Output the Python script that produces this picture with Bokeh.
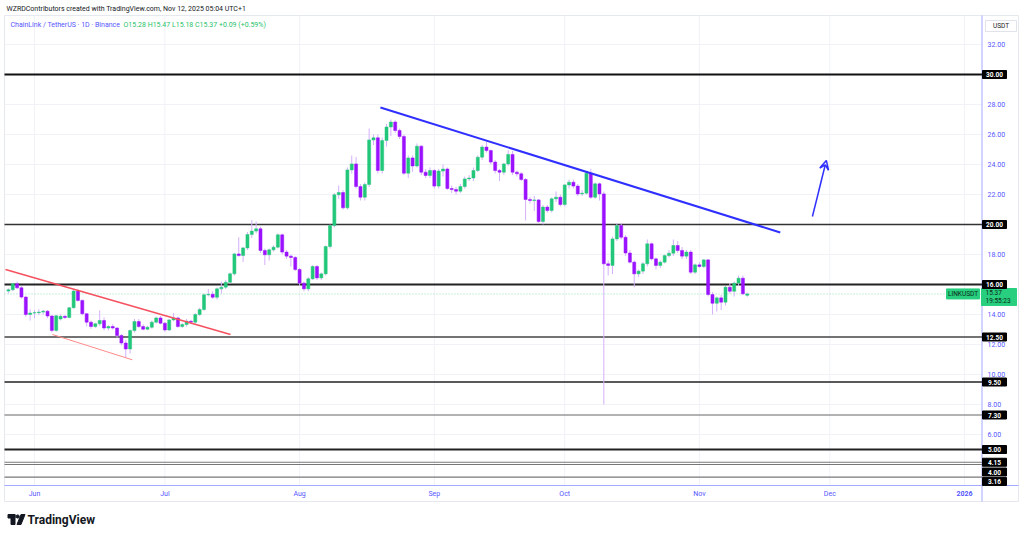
from bokeh.plotting import figure
from bokeh.models import Range1d, Arrow, VeeHead, ColumnDataSource
from bokeh.embed import file_html
from bokeh.resources import INLINE
from bokeh.core.properties import value

# ---------------- data (daily candles, 26 May 2025 -> 12 Nov 2025) ----------------
opens = [15.56, 15.65, 16.05, 15.78, 15.16, 14.0, 14.1, 14.12, 14.16, 14.22,
         13.9, 12.94, 13.7, 13.88, 13.8, 14.45, 15.56, 14.94, 14.05, 13.49,
         13.2, 13.38, 13.6, 13.1, 13.2, 13.1, 12.6, 12.1, 11.7, 12.93,
         13.53, 13.2, 13.02, 13.15, 13.49, 13.77, 13.42, 12.97, 13.64, 13.77,
         13.2, 13.33, 13.55, 13.49, 14.0, 14.33, 15.31, 15.35, 15.15, 15.71,
         15.82, 16.15, 16.71, 18.04, 17.93, 18.44, 19.33, 19.56, 19.71, 18.27,
         17.98, 18.31, 18.49, 19.31, 18.16, 17.89, 17.8, 17.0, 16.09, 15.71,
         16.38, 17.2, 16.44, 16.71, 18.53, 19.93, 21.98, 22.13, 21.11, 23.64,
         24.04, 22.53, 21.82, 22.67, 25.64, 25.78, 23.6, 25.6, 26.5, 26.83,
         26.27, 25.87, 23.42, 24.44, 23.9, 25.22, 23.49, 23.27, 23.6, 22.56,
         23.56, 23.7, 22.4, 22.33, 22.22, 22.53, 23.04, 23.1, 23.6, 24.49,
         25.16, 24.93, 24.16, 23.6, 23.49, 24.04, 24.67, 23.49, 23.38, 23.0,
         21.67, 21.6, 21.64, 20.2, 21.16, 20.93, 21.71, 21.82, 21.33, 22.64,
         22.82, 22.56, 22.04, 22.09, 23.42, 21.82, 22.71, 22.04, 17.38, 17.27,
         19.04, 19.93, 19.15, 18.1, 17.49, 16.71, 16.89, 17.38, 18.71, 17.71,
         17.27, 17.49, 17.93, 18.09, 18.6, 18.27, 17.89, 18.16, 16.82, 17.31,
         17.2, 17.64, 15.33, 14.75, 15.11, 14.82, 15.82, 15.55, 16.09, 16.42,
         15.28]
highs = [15.75, 16.1, 16.2, 15.9, 15.25, 14.35, 14.3, 14.35, 14.3, 14.3,
         13.95, 13.95, 14.0, 13.95, 14.5, 15.65, 15.7, 15.0, 14.1, 13.6,
         13.45, 14.27, 13.8, 13.3, 13.35, 13.15, 12.7, 12.3, 13.0, 13.7,
         13.7, 13.35, 13.25, 13.6, 13.85, 13.9, 13.5, 13.7, 14.1, 13.85,
         13.45, 13.7, 13.65, 14.1, 14.45, 15.4, 15.7, 15.55, 15.8, 16.2,
         16.3, 16.8, 18.1, 19.15, 18.5, 19.5, 20.3, 20.2, 19.85, 18.4,
         18.4, 18.6, 19.4, 19.4, 18.3, 18.0, 17.9, 17.1, 16.2, 16.5,
         17.3, 17.3, 16.8, 18.6, 20.0, 22.1, 22.6, 22.3, 23.8, 24.6,
         24.5, 22.7, 22.8, 26.4, 26.0, 26.0, 25.8, 26.7, 27.0, 26.95,
         26.4, 26.0, 24.6, 24.6, 25.4, 25.3, 23.7, 23.8, 23.7, 23.7,
         24.0, 23.8, 22.6, 22.5, 22.7, 23.2, 23.3, 23.8, 24.6, 25.3,
         25.5, 25.0, 24.3, 23.7, 24.1, 24.95, 24.9, 23.6, 23.5, 23.1,
         21.85, 21.9, 21.7, 21.3, 21.3, 21.8, 22.2, 22.0, 22.7, 23.0,
         23.0, 22.7, 22.3, 23.5, 23.71, 22.8, 22.8, 22.2, 17.6, 19.2,
         20.1, 20.1, 19.3, 18.3, 17.6, 17.0, 17.5, 19.0, 18.8, 17.8,
         17.6, 18.0, 18.3, 19.0, 18.9, 18.5, 18.3, 18.3, 17.4, 17.5,
         17.7, 17.7, 15.5, 15.2, 15.3, 15.9, 16.1, 16.2, 16.6, 16.6,
         15.47]
lows = [15.4, 15.55, 15.7, 15.05, 13.85, 13.6, 13.75, 13.95, 14.0, 13.75,
        12.8, 12.85, 13.6, 13.7, 13.75, 14.4, 14.85, 13.95, 13.2, 13.05,
        13.1, 13.25, 12.95, 12.95, 13.0, 12.45, 11.95, 11.1, 11.4, 12.8,
        13.1, 12.95, 12.95, 13.05, 13.4, 13.35, 12.85, 12.9, 13.55, 13.1,
        13.1, 13.2, 13.4, 13.4, 13.9, 14.25, 15.2, 15.05, 15.0, 15.4,
        15.7, 16.05, 16.6, 17.85, 17.5, 18.3, 19.1, 19.4, 18.1, 17.3,
        17.6, 18.2, 18.4, 18.0, 17.7, 17.2, 16.9, 15.9, 15.55, 15.55,
        16.3, 16.3, 16.3, 16.6, 18.4, 19.8, 21.7, 21.0, 21.0, 23.4,
        22.4, 21.6, 21.6, 22.5, 25.3, 23.4, 23.4, 25.2, 25.9, 26.1,
        25.7, 23.3, 23.1, 23.5, 23.8, 23.3, 23.1, 23.1, 22.4, 22.4,
        23.2, 22.3, 22.1, 22.0, 22.1, 22.4, 22.9, 22.9, 23.5, 24.3,
        24.8, 24.0, 23.4, 22.9, 23.3, 23.9, 23.3, 23.2, 22.9, 20.27,
        21.4, 20.9, 20.1, 20.0, 20.8, 20.8, 21.5, 21.2, 21.2, 22.4,
        22.4, 21.9, 21.9, 22.0, 21.7, 21.7, 21.6, 8.0, 16.6, 16.7,
        18.9, 19.0, 17.9, 17.4, 15.82, 16.5, 16.7, 17.2, 17.6, 17.0,
        17.1, 17.4, 17.8, 17.9, 18.1, 17.7, 17.7, 16.7, 16.7, 17.1,
        17.1, 15.2, 14.0, 14.2, 14.3, 14.6, 15.4, 15.2, 15.9, 15.3,
        15.18]
closes = [15.65, 16.05, 15.78, 15.16, 14.0, 14.1, 14.12, 14.16, 14.22, 13.9,
          12.94, 13.92, 13.88, 13.8, 14.45, 15.56, 14.94, 14.05, 13.49, 13.2,
          13.38, 13.6, 13.1, 13.2, 13.1, 12.6, 12.1, 11.7, 12.93, 13.53,
          13.2, 13.02, 13.15, 13.49, 13.77, 13.42, 12.97, 13.64, 13.77, 13.2,
          13.33, 13.55, 13.49, 14.0, 14.33, 15.31, 15.35, 15.15, 15.71, 15.82,
          16.15, 16.71, 18.04, 17.93, 18.44, 19.33, 19.56, 19.71, 18.27, 17.98,
          18.31, 18.49, 19.31, 18.16, 17.89, 17.8, 17.0, 16.09, 15.71, 16.38,
          17.2, 16.44, 16.71, 18.53, 19.93, 21.98, 22.13, 21.11, 23.64, 24.04,
          22.53, 21.82, 22.67, 25.64, 25.78, 23.6, 25.6, 26.5, 26.83, 26.27,
          25.87, 23.42, 24.44, 23.9, 25.22, 23.49, 23.27, 23.6, 22.56, 23.56,
          23.7, 22.4, 22.33, 22.22, 22.53, 23.04, 23.1, 23.6, 24.49, 25.16,
          24.93, 24.16, 23.6, 23.49, 24.04, 24.67, 23.49, 23.38, 23.0, 21.67,
          21.6, 21.64, 20.2, 21.16, 20.93, 21.71, 21.82, 21.33, 22.64, 22.82,
          22.56, 22.04, 22.09, 23.42, 21.82, 22.71, 22.04, 17.38, 17.27, 19.04,
          19.93, 19.15, 18.1, 17.49, 16.71, 16.89, 17.38, 18.71, 17.71, 17.27,
          17.49, 17.93, 18.09, 18.6, 18.27, 17.89, 18.16, 16.82, 17.31, 17.2,
          17.64, 15.33, 14.75, 15.11, 14.82, 15.82, 15.55, 16.09, 16.42, 15.38,
          15.37]

month_ticks = [6, 36, 67, 98, 128, 159, 189, 220]
month_labels = ["Jun", "Jul", "Aug", "Sep", "Oct", "Nov", "Dec", "2026"]
price_ticks = [6, 8, 10, 12, 14, 16, 18, 20, 22, 24, 26, 28, 30, 32]
grid_prices = [4, 6, 8, 10, 12, 14, 16, 18, 20, 22, 24, 26, 28, 30, 32]

levels = [30.0, 20.0, 16.0, 12.5, 9.5, 7.3, 5.0, 4.15, 4.0, 3.16]
level_text = ["30.00", "20.00", "16.00", "12.50", "9.50", "7.30", "5.00", "4.15", "4.00", "3.16"]
level_label_y = [30.0, 20.0, 16.0, 12.5, 9.5, 7.3, 5.0, 4.15, 3.5, 2.87]
level_colors = ["#111111", "#333333", "#222222", "#444444", "#222222", "#666666",
                "#222222", "#777777", "#777777", "#777777"]
level_widths = [2, 1.5, 2, 1.5, 1.3, 1.2, 2, 1.2, 1.2, 1.2]

blue_trend_x = [85.6, 177.6]
blue_trend_y = [27.8, 19.47]
red_trend_x = [-0.67, 51.1]
red_trend_y = [17.0, 12.67]
red_lower_x = [10.1, 28.5]
red_lower_y = [12.67, 10.98]
arrow_x = [185.0, 188.2]
arrow_y = [20.53, 24.27]
last_price = 15.37

# ---------------- page geometry (the frame covers the whole 1024x535 canvas) ----------------
W, H = 1024, 535
PX = 4.346           # pixels per day
XOFF = 7.92          # pixel position of candle 0


def fx(px_x):
    return (px_x - XOFF) / PX


def fy(px_y):
    return 32 - (px_y - 44) / 15.0


GREEN = "#22c77a"
PURPLE = "#9b12ff"
WICK = "#d4b0fb"
BLUE_TXT = "#5555ff"
AXIS = "#a3aaff"
GRID = "#f0f2f8"
TAG_GREEN = "#27cf7e"
FONT = "Roboto"

p = figure(width=W, height=H, x_range=Range1d(fx(0), fx(W)), y_range=Range1d(fy(H), fy(0)),
           output_backend="svg", toolbar_location=None,
           x_axis_location=None, y_axis_location=None,
           min_border=0, min_border_left=0, min_border_right=0,
           min_border_top=0, min_border_bottom=0,
           background_fill_color="white", border_fill_color="white")
p.outline_line_color = None
p.xgrid.visible = False
p.ygrid.visible = False

XL, XR = fx(4), fx(981.5)       # left / right of price pane
YT, YB = fy(15), fy(485)        # top / bottom of price pane

# panel borders
p.segment(x0=[fx(4), fx(4), fx(1018), fx(4)], y0=[fy(15), fy(15), fy(15), fy(501)],
          x1=[fx(1018), fx(4), fx(1018), fx(1018)], y1=[fy(15), fy(501), fy(501), fy(501)],
          line_color="#e6e8ef", line_width=1)

# grid
p.segment(x0=month_ticks, y0=[YT] * len(month_ticks), x1=month_ticks, y1=[YB] * len(month_ticks),
          line_color=GRID, line_width=1)
p.segment(x0=[XL] * len(grid_prices), y0=grid_prices, x1=[XR] * len(grid_prices), y1=grid_prices,
          line_color=GRID, line_width=1)

# axis lines
p.segment(x0=[XR], y0=[YT], x1=[XR], y1=[fy(501)], line_color=AXIS, line_width=1)
p.segment(x0=[XL], y0=[YB], x1=[fx(1018)], y1=[YB], line_color=AXIS, line_width=1)

# horizontal levels
p.segment(x0=[XL] * len(levels), y0=levels, x1=[XR] * len(levels), y1=levels,
          line_color=level_colors, line_width=level_widths)

# current price line
p.segment(x0=[XL], y0=[last_price], x1=[XR], y1=[last_price], line_color="#8fe3b5",
          line_width=1, line_dash="1 2")

# candles
idx = list(range(len(opens)))
colors = [GREEN if c >= o else PURPLE for o, c in zip(opens, closes)]
src = ColumnDataSource(dict(x=idx, o=opens, h=highs, l=lows, c=closes,
                            top=[max(o, c) for o, c in zip(opens, closes)],
                            bot=[min(o, c) for o, c in zip(opens, closes)],
                            col=colors))
p.segment(x0="x", y0="l", x1="x", y1="h", source=src, line_color=WICK, line_width=1)
p.vbar(x="x", width=0.7, top="top", bottom="bot", source=src,
       fill_color="col", line_color="col", line_width=0.5)

# trend lines
p.line(blue_trend_x, blue_trend_y, line_color="#2f2fff", line_width=2)
p.line(red_trend_x, red_trend_y, line_color="#f5515f", line_width=1.5)
p.line(red_lower_x, red_lower_y, line_color="#ff8a8a", line_width=1)
p.add_layout(Arrow(end=VeeHead(size=9, line_color="#2f2fff", line_width=1.5, fill_color=None),
                   x_start=arrow_x[0], y_start=arrow_y[0], x_end=arrow_x[1], y_end=arrow_y[1],
                   line_color="#2f2fff", line_width=1.5))

# price-axis tick labels
p.text(x=[fx(987)] * len(price_ticks), y=price_ticks, text=["%.2f" % t for t in price_ticks],
       text_font=value(FONT), text_font_size="7px", text_color=BLUE_TXT,
       text_baseline="middle", text_align="left")
# time-axis tick labels
p.text(x=month_ticks, y=[fy(493)] * len(month_ticks), text=month_labels,
       text_font=value(FONT), text_font_size="7px", text_color=BLUE_TXT,
       text_baseline="middle", text_align="center",
       text_font_style=["normal"] * 7 + ["bold"])

# symbol and price tags
p.rect(x=[fx(962.5)], y=[last_price], width=33, height=10, width_units="screen",
       height_units="screen", fill_color=TAG_GREEN, line_color=TAG_GREEN)
p.text(x=[fx(962.5)], y=[last_price], text=["LINKUSDT"], text_font=value(FONT),
       text_font_size="6.5px", text_color="#0d2a1a", text_baseline="middle", text_align="center")
p.rect(x=[fx(998.5)], y=[fy(296.5)], width=35, height=17, width_units="screen",
       height_units="screen", fill_color=TAG_GREEN, line_color=TAG_GREEN)
p.text(x=[fx(985), fx(985)], y=[fy(292), fy(300.5)], text=["15.37", "19:55:23"],
       text_font=value(FONT), text_font_size="6.5px", text_color="#0d2a1a",
       text_baseline="middle", text_align="left")

# level tags on the price axis (drawn above the price tag)
p.rect(x=[fx(994)] * len(levels), y=level_label_y, width=24, height=8,
       width_units="screen", height_units="screen", fill_color="black", line_color="black")
p.text(x=[fx(994)] * len(levels), y=level_label_y, text=level_text,
       text_font=value(FONT), text_font_size="6.5px", text_font_style="bold",
       text_color="white", text_baseline="middle", text_align="center")

# USDT box
p.rect(x=[fx(1000.5)], y=[fy(25.5)], width=31, height=11, width_units="screen",
       height_units="screen", fill_color="white", line_color="#e0e3eb")
p.text(x=[fx(1000.5)], y=[fy(25.5)], text=["USDT"], text_font=value(FONT),
       text_font_size="6.5px", text_color="#222222", text_baseline="middle", text_align="center")

# header texts
p.text(x=[fx(6)], y=[fy(8)], text=["WZRDContributors created with TradingView.com, Nov 12, 2025 05:04 UTC+1"],
       text_font=value(FONT), text_font_size="7px", text_color="#131722",
       text_baseline="middle", text_align="left")
p.text(x=[fx(10)], y=[fy(24)], text=["ChainLink / TetherUS · 1D · Binance"],
       text_font=value(FONT), text_font_size="7px", text_color=BLUE_TXT,
       text_baseline="middle", text_align="left")
p.text(x=[fx(123)], y=[fy(24)], text=["O15.28  H15.47  L15.18  C15.37  +0.09 (+0.59%)"],
       text_font=value(FONT), text_font_size="7px", text_color="#1fbf6a",
       text_baseline="middle", text_align="left")

# footer brand (logo mark + word)
INK = "#131722"
p.quad(left=[fx(7.5), fx(10.5)], right=[fx(14.5), fx(14.5)],
       top=[fy(514), fy(514)], bottom=[fy(517.5), fy(524)], fill_color=INK, line_color=INK)
p.scatter(x=[fx(17.2)], y=[fy(516)], size=3.2, marker="circle", fill_color=INK, line_color=INK)
p.patch(x=[fx(20.5), fx(24.5), fx(20.5), fx(16.5)], y=[fy(514), fy(514), fy(524), fy(524)],
        fill_color=INK, line_color=INK)
p.text(x=[fx(27)], y=[fy(519)], text=["TradingView"], text_font=value(FONT),
       text_font_size="12px", text_font_style="bold", text_color=INK,
       text_baseline="middle", text_align="left")

open("out.html", "w").write(file_html(p, INLINE))
